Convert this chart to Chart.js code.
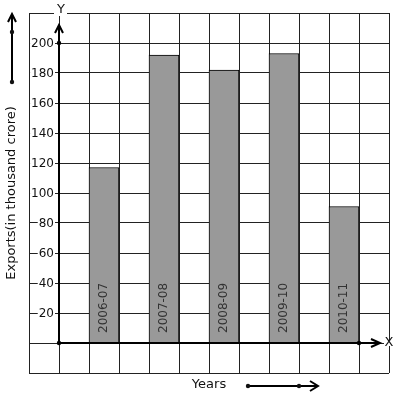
<!DOCTYPE html>
<html>
<head>
<meta charset="utf-8">
<script src="https://cdn.jsdelivr.net/npm/chart.js@4"></script>
<style>
html,body{margin:0;padding:0;background:#fff;}
canvas{display:block;}
</style>
</head>
<body>
<canvas id="c" width="397" height="399"></canvas>
<script>
const categories = ['', '', '2006-07', '', '2007-08', '', '2008-09', '', '2009-10', '', '2010-11', ''];
const exportsValues = [null, null, 117, null, 192, null, 182, null, 193, null, 91, null];
const yTickLabels = [20, 40, 60, 80, 100, 120, 140, 160, 180, 200];
const yTitle = 'Exports(in thousand crore)';
const xTitle = 'Years';

const FONT = '"DejaVu Sans", sans-serif';

const overlay = {
  id: 'overlay',
  afterDatasetsDraw(chart) {
    const ctx = chart.ctx;
    const xs = chart.scales.x, ys = chart.scales.y;
    const ca = chart.chartArea;
    const x0 = (xs.getPixelForValue(0) + xs.getPixelForValue(1)) / 2;
    const y0 = ys.getPixelForValue(0);
    ctx.save();
    // bar labels
    ctx.fillStyle = '#333';
    ctx.font = '12px ' + FONT;
    ctx.textAlign = 'left';
    ctx.textBaseline = 'middle';
    categories.forEach((c, i) => {
      if (!c) return;
      const px = xs.getPixelForValue(i);
      ctx.save();
      ctx.translate(px, y0 - 10);
      ctx.rotate(-Math.PI / 2);
      ctx.fillText(c, 0, 0);
      ctx.restore();
    });
    // y tick labels with white background
    ctx.font = '12px ' + FONT;
    ctx.textAlign = 'right';
    ctx.textBaseline = 'middle';
    yTickLabels.forEach(t => {
      const py = ys.getPixelForValue(t);
      const w = ctx.measureText(String(t)).width;
      ctx.fillStyle = '#fff';
      ctx.fillRect(x0 - 5 - w - 1, py - 2, w + 2, 4);
      ctx.fillStyle = '#111';
      ctx.fillText(String(t), x0 - 5, py + 1);
    });
    // axes
    ctx.strokeStyle = '#000';
    ctx.lineWidth = 2;
    ctx.lineCap = 'butt';
    const yTop = ca.top + 12;
    const xRight = ca.right - 9;
    ctx.beginPath();
    ctx.moveTo(x0, y0);
    ctx.lineTo(x0, yTop);
    ctx.moveTo(x0 - 4, yTop + 8);
    ctx.lineTo(x0, yTop);
    ctx.lineTo(x0 + 4, yTop + 8);
    ctx.moveTo(x0, y0);
    ctx.lineTo(xRight, y0);
    ctx.moveTo(xRight - 9, y0 - 4);
    ctx.lineTo(xRight, y0);
    ctx.lineTo(xRight - 9, y0 + 4);
    ctx.stroke();
    // dots
    ctx.fillStyle = '#000';
    const dot = (x, y) => { ctx.beginPath(); ctx.arc(x, y, 2.2, 0, Math.PI * 2); ctx.fill(); };
    dot(x0, y0);
    dot(x0, ys.getPixelForValue(200));
    dot((xs.getPixelForValue(10) + xs.getPixelForValue(11)) / 2, y0);
    // axis letters
    ctx.font = '13px ' + FONT;
    ctx.textAlign = 'center';
    ctx.textBaseline = 'middle';
    ctx.fillStyle = '#fff';
    ctx.fillRect(x0 - 5, ca.top - 3, 13, 6);
    ctx.fillRect(ca.right - 5, y0 - 3, 10, 6);
    ctx.fillStyle = '#111';
    ctx.fillText('Y', x0 + 2, ca.top - 3);
    ctx.fillText('X', ca.right, y0);
    // left decorative arrow
    ctx.lineWidth = 2;
    ctx.beginPath();
    ctx.moveTo(12, 82);
    ctx.lineTo(12, 14);
    ctx.moveTo(8, 22);
    ctx.lineTo(12, 14);
    ctx.lineTo(16, 22);
    ctx.stroke();
    dot(12, 32);
    dot(12, 82);
    // y title
    ctx.save();
    ctx.translate(12, 193);
    ctx.rotate(-Math.PI / 2);
    ctx.font = '13px ' + FONT;
    ctx.fillStyle = '#111';
    ctx.textAlign = 'center';
    ctx.textBaseline = 'middle';
    ctx.fillText(yTitle, 0, 0);
    ctx.restore();
    // x title + arrow
    ctx.font = '13px ' + FONT;
    ctx.textAlign = 'center';
    ctx.textBaseline = 'middle';
    ctx.fillStyle = '#111';
    ctx.fillText(xTitle, 209, 385);
    ctx.lineWidth = 2;
    ctx.beginPath();
    ctx.moveTo(248, 386);
    ctx.lineTo(318, 386);
    ctx.moveTo(310, 381);
    ctx.lineTo(318, 386);
    ctx.lineTo(310, 391);
    ctx.stroke();
    dot(248, 386);
    dot(299, 386);
    ctx.restore();
  }
};

new Chart(document.getElementById('c'), {
  type: 'bar',
  data: {
    labels: categories,
    datasets: [{
      data: exportsValues,
      backgroundColor: '#999999',
      borderColor: '#000',
      borderWidth: 1,
      borderSkipped: 'bottom',
      barPercentage: 1,
      categoryPercentage: 1
    }]
  },
  options: {
    responsive: false,
    animation: false,
    devicePixelRatio: 1,
    layout: { padding: { left: 29, top: 13, right: 8, bottom: 26 } },
    plugins: { legend: { display: false }, tooltip: { enabled: false } },
    scales: {
      x: {
        type: 'category',
        offset: true,
        grid: { offset: true, color: '#222', lineWidth: 1, drawTicks: false },
        border: { display: false },
        ticks: { display: false }
      },
      y: {
        min: -20, max: 220,
        ticks: { stepSize: 20, display: false },
        grid: { color: '#222', lineWidth: 1, drawTicks: false },
        border: { display: false }
      }
    }
  },
  plugins: [overlay]
});
</script>
</body>
</html>
